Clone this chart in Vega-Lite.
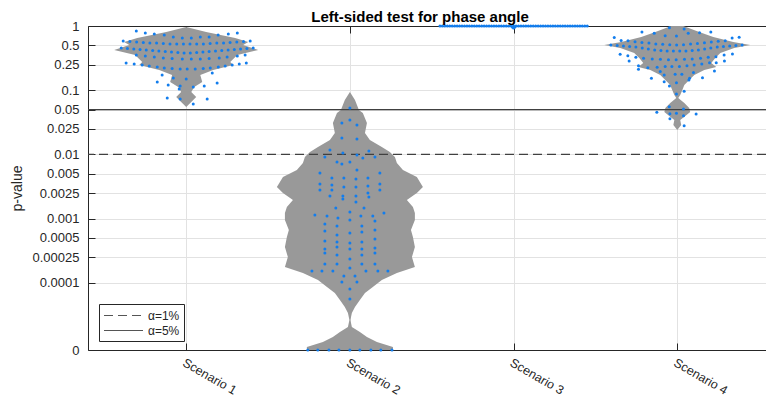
{
  "$schema": "https://vega.github.io/schema/vega-lite/v6.json",
  "width": 678,
  "height": 324,
  "autosize": {"type": "none"},
  "padding": {"left": 88, "top": 26, "right": 0, "bottom": 55},
  "background": "white",
  "title": {"text": "Left-sided test for phase angle", "fontSize": 15, "fontWeight": "bold", "font": "Liberation Sans", "color": "#000000", "anchor": "middle", "dx": -7, "dy": 22, "offset": 5, "baseline": "alphabetic"},
  "config": {"view": {"stroke": null}, "font": "Liberation Sans"},
  "datasets": {
    "violin": [
      {"s":1,"p":0.965,"lo":1,"hi":1},{"s":1,"p":0.806,"lo":0.878,"hi":1.122},{"s":1,"p":0.65,"lo":0.701,"hi":1.299},{"s":1,"p":0.563,"lo":0.621,"hi":1.379},{"s":1,"p":0.506,"lo":0.652,"hi":1.348},{"s":1,"p":0.423,"lo":0.56,"hi":1.44},{"s":1,"p":0.353,"lo":0.688,"hi":1.312},{"s":1,"p":0.275,"lo":0.731,"hi":1.269},{"s":1,"p":0.247,"lo":0.713,"hi":1.287},{"s":1,"p":0.206,"lo":0.835,"hi":1.165},{"s":1,"p":0.1725,"lo":0.914,"hi":1.086},{"s":1,"p":0.134,"lo":0.902,"hi":1.098},{"s":1,"p":0.112,"lo":0.951,"hi":1.049},{"s":1,"p":0.0937,"lo":0.969,"hi":1.031},{"s":1,"p":0.0784,"lo":0.939,"hi":1.061},{"s":1,"p":0.0655,"lo":0.969,"hi":1.031},{"s":1,"p":0.0548,"lo":1,"hi":1},
      {"s":2,"p":0.0937,"lo":2,"hi":2},{"s":2,"p":0.0703,"lo":1.969,"hi":2.031},{"s":2,"p":0.0492,"lo":1.945,"hi":2.055},{"s":2,"p":0.0441,"lo":1.921,"hi":2.079},{"s":2,"p":0.0308,"lo":1.896,"hi":2.104},{"s":2,"p":0.0216,"lo":1.908,"hi":2.092},{"s":2,"p":0.0168,"lo":1.878,"hi":2.122},{"s":2,"p":0.013,"lo":1.805,"hi":2.195},{"s":2,"p":0.0109,"lo":1.756,"hi":2.244},{"s":2,"p":0.0091,"lo":1.725,"hi":2.275},{"s":2,"p":0.00735,"lo":1.713,"hi":2.287},{"s":2,"p":0.00571,"lo":1.676,"hi":2.324},{"s":2,"p":0.00444,"lo":1.591,"hi":2.409},{"s":2,"p":0.00311,"lo":1.554,"hi":2.446},{"s":2,"p":0.0025,"lo":1.591,"hi":2.409},{"s":2,"p":0.00195,"lo":1.652,"hi":2.348},{"s":2,"p":0.00152,"lo":1.615,"hi":2.385},{"s":2,"p":0.00122,"lo":1.603,"hi":2.397},{"s":2,"p":0.000951,"lo":1.603,"hi":2.397},{"s":2,"p":0.000664,"lo":1.627,"hi":2.373},{"s":2,"p":0.000517,"lo":1.615,"hi":2.385},{"s":2,"p":0.000361,"lo":1.603,"hi":2.397},{"s":2,"p":0.000252,"lo":1.621,"hi":2.379},{"s":2,"p":0.000176,"lo":1.603,"hi":2.397},{"s":2,"p":0.000142,"lo":1.713,"hi":2.287},{"s":2,"p":0.000111,"lo":1.805,"hi":2.195},{"s":2,"p":0.0000861,"lo":1.86,"hi":2.14},{"s":2,"p":0.0000693,"lo":1.908,"hi":2.092},{"s":2,"p":0.000054,"lo":1.939,"hi":2.061},{"s":2,"p":0.000042,"lo":1.969,"hi":2.031},{"s":2,"p":0.0000339,"lo":1.988,"hi":2.012},{"s":2,"p":0.0000264,"lo":1.997,"hi":2.003},{"s":2,"p":0.0000205,"lo":1.988,"hi":2.012},{"s":2,"p":0.0000171,"lo":1.939,"hi":2.061},{"s":2,"p":0.0000143,"lo":1.896,"hi":2.104},{"s":2,"p":0.000012,"lo":1.835,"hi":2.165},{"s":2,"p":0.00001,"lo":1.737,"hi":2.263},{"s":2,"p":0.000009,"lo":1.737,"hi":2.263},
      {"s":3,"p":1,"lo":2.985,"hi":3.015},{"s":3,"p":0.97,"lo":2.997,"hi":3.003},{"s":3,"p":0.94,"lo":3,"hi":3},
      {"s":4,"p":1,"lo":3.963,"hi":4.037},{"s":4,"p":0.806,"lo":3.866,"hi":4.134},{"s":4,"p":0.674,"lo":3.78,"hi":4.22},{"s":4,"p":0.563,"lo":3.658,"hi":4.342},{"s":4,"p":0.506,"lo":3.554,"hi":4.446},{"s":4,"p":0.454,"lo":3.652,"hi":4.348},{"s":4,"p":0.38,"lo":3.737,"hi":4.263},{"s":4,"p":0.318,"lo":3.768,"hi":4.232},{"s":4,"p":0.265,"lo":3.792,"hi":4.208},{"s":4,"p":0.23,"lo":3.762,"hi":4.238},{"s":4,"p":0.206,"lo":3.835,"hi":4.165},{"s":4,"p":0.1725,"lo":3.896,"hi":4.104},{"s":4,"p":0.144,"lo":3.927,"hi":4.073},{"s":4,"p":0.1205,"lo":3.957,"hi":4.043},{"s":4,"p":0.1007,"lo":3.969,"hi":4.031},{"s":4,"p":0.0842,"lo":3.982,"hi":4.018},{"s":4,"p":0.0756,"lo":3.994,"hi":4.006},{"s":4,"p":0.0632,"lo":3.957,"hi":4.043},{"s":4,"p":0.0528,"lo":3.927,"hi":4.073},{"s":4,"p":0.0458,"lo":3.921,"hi":4.079},{"s":4,"p":0.0397,"lo":3.951,"hi":4.049},{"s":4,"p":0.0343,"lo":3.982,"hi":4.018},{"s":4,"p":0.0287,"lo":3.976,"hi":4.024},{"s":4,"p":0.024,"lo":4,"hi":4}
    ],
    "alpha": [{"p":0.01,"a":"α=1%"},{"p":0.05,"a":"α=5%"}],
    "dots": [
      {"s":1,"x":0.695,"p":0.836},{"s":1,"x":0.75,"p":0.778},{"s":1,"x":0.805,"p":0.75},{"s":1,"x":0.866,"p":0.724},{"s":1,"x":0.921,"p":0.674},{"s":1,"x":0.976,"p":0.65},{"s":1,"x":1.031,"p":0.65},{"s":1,"x":1.086,"p":0.674},{"s":1,"x":1.14,"p":0.674},{"s":1,"x":1.195,"p":0.724},{"s":1,"x":1.257,"p":0.75},{"s":1,"x":1.312,"p":0.778},
      {"s":1,"x":0.615,"p":0.584},{"s":1,"x":0.656,"p":0.574},{"s":1,"x":0.697,"p":0.563},{"s":1,"x":0.738,"p":0.553},{"s":1,"x":0.778,"p":0.543},{"s":1,"x":0.819,"p":0.543},{"s":1,"x":0.86,"p":0.533},{"s":1,"x":0.901,"p":0.524},{"s":1,"x":0.942,"p":0.524},{"s":1,"x":0.983,"p":0.524},{"s":1,"x":1.023,"p":0.524},{"s":1,"x":1.064,"p":0.524},{"s":1,"x":1.105,"p":0.524},{"s":1,"x":1.146,"p":0.533},{"s":1,"x":1.187,"p":0.543},{"s":1,"x":1.228,"p":0.543},{"s":1,"x":1.268,"p":0.553},{"s":1,"x":1.309,"p":0.563},{"s":1,"x":1.35,"p":0.574},{"s":1,"x":1.391,"p":0.584},
      {"s":1,"x":0.603,"p":0.454},{"s":1,"x":0.641,"p":0.446},{"s":1,"x":0.68,"p":0.438},{"s":1,"x":0.718,"p":0.43},{"s":1,"x":0.756,"p":0.423},{"s":1,"x":0.795,"p":0.415},{"s":1,"x":0.833,"p":0.408},{"s":1,"x":0.872,"p":0.401},{"s":1,"x":0.91,"p":0.394},{"s":1,"x":0.949,"p":0.387},{"s":1,"x":0.987,"p":0.38},{"s":1,"x":1.025,"p":0.38},{"s":1,"x":1.064,"p":0.387},{"s":1,"x":1.102,"p":0.394},{"s":1,"x":1.14,"p":0.401},{"s":1,"x":1.179,"p":0.408},{"s":1,"x":1.217,"p":0.415},{"s":1,"x":1.256,"p":0.423},{"s":1,"x":1.294,"p":0.43},{"s":1,"x":1.332,"p":0.438},{"s":1,"x":1.371,"p":0.446},{"s":1,"x":1.409,"p":0.454},
      {"s":1,"x":0.695,"p":0.353},{"s":1,"x":0.75,"p":0.341},{"s":1,"x":0.805,"p":0.329},{"s":1,"x":0.86,"p":0.318},{"s":1,"x":0.914,"p":0.312},{"s":1,"x":0.976,"p":0.306},{"s":1,"x":1.031,"p":0.306},{"s":1,"x":1.086,"p":0.306},{"s":1,"x":1.14,"p":0.312},{"s":1,"x":1.202,"p":0.318},{"s":1,"x":1.25,"p":0.329},{"s":1,"x":1.312,"p":0.341},{"s":1,"x":1.36,"p":0.353},
      {"s":1,"x":0.633,"p":0.265},{"s":1,"x":0.682,"p":0.256},{"s":1,"x":0.731,"p":0.247},{"s":1,"x":0.774,"p":0.238},{"s":1,"x":0.823,"p":0.23},{"s":1,"x":0.866,"p":0.222},{"s":1,"x":0.914,"p":0.218},{"s":1,"x":0.963,"p":0.214},{"s":1,"x":1.006,"p":0.214},{"s":1,"x":1.055,"p":0.214},{"s":1,"x":1.104,"p":0.218},{"s":1,"x":1.147,"p":0.222},{"s":1,"x":1.196,"p":0.23},{"s":1,"x":1.238,"p":0.238},{"s":1,"x":1.281,"p":0.247},{"s":1,"x":1.324,"p":0.256},{"s":1,"x":1.367,"p":0.265},
      {"s":1,"x":0.853,"p":0.1725},{"s":1,"x":1.159,"p":0.185},{"s":1,"x":0.823,"p":0.134},{"s":1,"x":0.921,"p":0.155},{"s":1,"x":1.0,"p":0.149},{"s":1,"x":1.189,"p":0.1295},{"s":1,"x":0.89,"p":0.1205},{"s":1,"x":0.963,"p":0.116},{"s":1,"x":1.043,"p":0.112},{"s":1,"x":1.11,"p":0.116},{"s":1,"x":0.957,"p":0.104},{"s":1,"x":0.884,"p":0.0756},{"s":1,"x":0.963,"p":0.0729},{"s":1,"x":1.128,"p":0.0729},{"s":1,"x":1.043,"p":0.061},
      {"s":2,"x":2.0,"p":0.0528},{"s":2,"x":1.951,"p":0.0308},{"s":2,"x":2.0,"p":0.0343},{"s":2,"x":2.043,"p":0.0287},{"s":2,"x":1.951,"p":0.018},{"s":2,"x":2.043,"p":0.0174},{"s":2,"x":1.878,"p":0.0117},{"s":2,"x":1.957,"p":0.0105},{"s":2,"x":2.043,"p":0.0098},{"s":2,"x":2.116,"p":0.0113},{"s":2,"x":1.847,"p":0.0091},{"s":2,"x":2.079,"p":0.0088},{"s":2,"x":2.153,"p":0.0091},{"s":2,"x":1.921,"p":0.00762},{"s":2,"x":1.951,"p":0.00709},{"s":2,"x":2.0,"p":0.00762},{"s":2,"x":2.043,"p":0.00571},{"s":2,"x":1.817,"p":0.00513},{"s":2,"x":2.183,"p":0.00513},{"s":2,"x":1.89,"p":0.00429},{"s":2,"x":1.963,"p":0.00429},{"s":2,"x":2.037,"p":0.00414},{"s":2,"x":2.11,"p":0.00429},{"s":2,"x":1.817,"p":0.00346},{"s":2,"x":1.89,"p":0.00334},{"s":2,"x":1.963,"p":0.00311},{"s":2,"x":2.037,"p":0.00311},{"s":2,"x":2.11,"p":0.00322},{"s":2,"x":2.183,"p":0.00346},{"s":2,"x":1.817,"p":0.00279},{"s":2,"x":1.89,"p":0.00279},{"s":2,"x":2.183,"p":0.00279},{"s":2,"x":1.878,"p":0.00225},{"s":2,"x":1.957,"p":0.00225},{"s":2,"x":1.957,"p":0.00202},{"s":2,"x":2.037,"p":0.00225},{"s":2,"x":2.11,"p":0.0025},{"s":2,"x":2.116,"p":0.00217},{"s":2,"x":2.037,"p":0.00181},{"s":2,"x":1.914,"p":0.00146},{"s":2,"x":2.086,"p":0.00146},{"s":2,"x":1.786,"p":0.00114},{"s":2,"x":1.86,"p":0.0011},{"s":2,"x":1.927,"p":0.00102},{"s":2,"x":2.0,"p":0.00127},{"s":2,"x":2.067,"p":0.0011},{"s":2,"x":2.14,"p":0.0011},{"s":2,"x":2.208,"p":0.00122},{"s":2,"x":1.847,"p":0.000824},{"s":2,"x":1.921,"p":0.000767},{"s":2,"x":2.0,"p":0.000951},{"s":2,"x":2.073,"p":0.000767},{"s":2,"x":2.153,"p":0.000918},{"s":2,"x":1.847,"p":0.000641},{"s":2,"x":1.921,"p":0.000556},{"s":2,"x":2.0,"p":0.000597},{"s":2,"x":2.073,"p":0.000618},{"s":2,"x":2.153,"p":0.000664},{"s":2,"x":1.847,"p":0.000448},{"s":2,"x":1.921,"p":0.000432},{"s":2,"x":2.0,"p":0.000417},{"s":2,"x":2.073,"p":0.000432},{"s":2,"x":2.153,"p":0.000481},{"s":2,"x":1.847,"p":0.000336},{"s":2,"x":1.847,"p":0.000291},{"s":2,"x":1.921,"p":0.000361},{"s":2,"x":1.921,"p":0.000271},{"s":2,"x":2.0,"p":0.000336},{"s":2,"x":2.0,"p":0.000235},{"s":2,"x":2.073,"p":0.000336},{"s":2,"x":2.073,"p":0.000271},{"s":2,"x":2.153,"p":0.000348},{"s":2,"x":2.153,"p":0.000291},{"s":2,"x":1.847,"p":0.000196},{"s":2,"x":1.921,"p":0.000196},{"s":2,"x":2.0,"p":0.00017},{"s":2,"x":2.073,"p":0.000196},{"s":2,"x":2.153,"p":0.000196},{"s":2,"x":1.768,"p":0.000153},{"s":2,"x":1.829,"p":0.000153},{"s":2,"x":1.896,"p":0.000153},{"s":2,"x":2.098,"p":0.000153},{"s":2,"x":2.171,"p":0.000153},{"s":2,"x":2.232,"p":0.000153},{"s":2,"x":1.963,"p":0.000128},{"s":2,"x":2.031,"p":0.000128},{"s":2,"x":1.951,"p":0.000103},{"s":2,"x":2.043,"p":0.000103},{"s":2,"x":2.0,"p":0.00008},{"s":2,"x":2.0,"p":0.000056},
      {"s":2,"x":1.743,"p":0.000009},{"s":2,"x":1.804,"p":0.000009},{"s":2,"x":1.872,"p":0.000009},{"s":2,"x":1.933,"p":0.000009},{"s":2,"x":2.0,"p":0.000009},{"s":2,"x":2.061,"p":0.000009},{"s":2,"x":2.128,"p":0.000009},{"s":2,"x":2.189,"p":0.000009},{"s":2,"x":2.257,"p":0.000009},
      {"s":3,"x":2.55,"p":1},{"s":3,"x":2.565,"p":1},{"s":3,"x":2.58,"p":1},{"s":3,"x":2.595,"p":1},{"s":3,"x":2.61,"p":1},{"s":3,"x":2.625,"p":1},{"s":3,"x":2.64,"p":1},{"s":3,"x":2.655,"p":1},{"s":3,"x":2.67,"p":1},{"s":3,"x":2.685,"p":1},{"s":3,"x":2.7,"p":1},{"s":3,"x":2.715,"p":1},{"s":3,"x":2.73,"p":1},{"s":3,"x":2.745,"p":1},{"s":3,"x":2.76,"p":1},{"s":3,"x":2.775,"p":1},{"s":3,"x":2.79,"p":1},{"s":3,"x":2.805,"p":1},{"s":3,"x":2.82,"p":1},{"s":3,"x":2.835,"p":1},{"s":3,"x":2.85,"p":1},{"s":3,"x":2.865,"p":1},{"s":3,"x":2.88,"p":1},{"s":3,"x":2.895,"p":1},{"s":3,"x":2.91,"p":1},{"s":3,"x":2.925,"p":1},{"s":3,"x":2.94,"p":1},{"s":3,"x":2.955,"p":1},{"s":3,"x":2.97,"p":1},{"s":3,"x":2.985,"p":1},{"s":3,"x":3.0,"p":1},{"s":3,"x":3.015,"p":1},{"s":3,"x":3.03,"p":1},{"s":3,"x":3.045,"p":1},{"s":3,"x":3.06,"p":1},{"s":3,"x":3.075,"p":1},{"s":3,"x":3.09,"p":1},{"s":3,"x":3.105,"p":1},{"s":3,"x":3.12,"p":1},{"s":3,"x":3.135,"p":1},{"s":3,"x":3.15,"p":1},{"s":3,"x":3.165,"p":1},{"s":3,"x":3.18,"p":1},{"s":3,"x":3.195,"p":1},{"s":3,"x":3.21,"p":1},{"s":3,"x":3.225,"p":1},{"s":3,"x":3.24,"p":1},{"s":3,"x":3.255,"p":1},{"s":3,"x":3.27,"p":1},{"s":3,"x":3.285,"p":1},{"s":3,"x":3.3,"p":1},{"s":3,"x":3.315,"p":1},{"s":3,"x":3.33,"p":1},{"s":3,"x":3.345,"p":1},{"s":3,"x":3.36,"p":1},{"s":3,"x":3.375,"p":1},{"s":3,"x":3.39,"p":1},{"s":3,"x":3.405,"p":1},{"s":3,"x":3.42,"p":1},{"s":3,"x":3.435,"p":1},{"s":3,"x":3.45,"p":1},{"s":3,"x":2.994,"p":0.96},{"s":3,"x":3.0,"p":0.93},{"s":3,"x":3.006,"p":0.96},
      {"s":4,"x":3.784,"p":0.806},{"s":4,"x":3.859,"p":0.77},{"s":4,"x":3.926,"p":0.706},{"s":4,"x":3.952,"p":0.941},{"s":4,"x":3.995,"p":0.698},{"s":4,"x":4.042,"p":0.898},{"s":4,"x":4.067,"p":0.77},{"s":4,"x":4.136,"p":0.786},{"s":4,"x":4.205,"p":0.806},
      {"s":4,"x":3.615,"p":0.662},{"s":4,"x":3.657,"p":0.594},{"s":4,"x":3.699,"p":0.59},{"s":4,"x":3.742,"p":0.57},{"s":4,"x":3.784,"p":0.553},{"s":4,"x":3.827,"p":0.543},{"s":4,"x":3.869,"p":0.524},{"s":4,"x":3.911,"p":0.519},{"s":4,"x":3.954,"p":0.512},{"s":4,"x":3.996,"p":0.506},{"s":4,"x":4.038,"p":0.512},{"s":4,"x":4.081,"p":0.524},{"s":4,"x":4.123,"p":0.533},{"s":4,"x":4.166,"p":0.549},{"s":4,"x":4.208,"p":0.563},{"s":4,"x":4.25,"p":0.578},{"s":4,"x":4.293,"p":0.59},{"s":4,"x":4.335,"p":0.65},{"s":4,"x":4.378,"p":0.666},
      {"s":4,"x":3.594,"p":0.506},{"s":4,"x":3.633,"p":0.497},{"s":4,"x":3.671,"p":0.488},{"s":4,"x":3.709,"p":0.479},{"s":4,"x":3.747,"p":0.471},{"s":4,"x":3.786,"p":0.454},{"s":4,"x":3.823,"p":0.438},{"s":4,"x":3.862,"p":0.423},{"s":4,"x":3.9,"p":0.415},{"s":4,"x":3.938,"p":0.408},{"s":4,"x":3.976,"p":0.408},{"s":4,"x":4.015,"p":0.408},{"s":4,"x":4.053,"p":0.408},{"s":4,"x":4.091,"p":0.415},{"s":4,"x":4.129,"p":0.423},{"s":4,"x":4.167,"p":0.438},{"s":4,"x":4.205,"p":0.454},{"s":4,"x":4.244,"p":0.471},{"s":4,"x":4.282,"p":0.479},{"s":4,"x":4.32,"p":0.488},{"s":4,"x":4.358,"p":0.497},{"s":4,"x":4.396,"p":0.506},
      {"s":4,"x":3.651,"p":0.362},{"s":4,"x":3.698,"p":0.345},{"s":4,"x":3.747,"p":0.326},{"s":4,"x":3.794,"p":0.314},{"s":4,"x":3.847,"p":0.306},{"s":4,"x":3.897,"p":0.303},{"s":4,"x":3.946,"p":0.299},{"s":4,"x":3.993,"p":0.299},{"s":4,"x":4.044,"p":0.303},{"s":4,"x":4.091,"p":0.306},{"s":4,"x":4.142,"p":0.314},{"s":4,"x":4.189,"p":0.326},{"s":4,"x":4.236,"p":0.333},{"s":4,"x":4.286,"p":0.353},{"s":4,"x":4.337,"p":0.366},
      {"s":4,"x":3.706,"p":0.285},{"s":4,"x":3.763,"p":0.241},{"s":4,"x":3.763,"p":0.212},{"s":4,"x":3.82,"p":0.224},{"s":4,"x":3.877,"p":0.228},{"s":4,"x":3.926,"p":0.233},{"s":4,"x":3.967,"p":0.233},{"s":4,"x":4.013,"p":0.233},{"s":4,"x":4.059,"p":0.241},{"s":4,"x":4.103,"p":0.247},{"s":4,"x":4.15,"p":0.256},{"s":4,"x":4.197,"p":0.268},{"s":4,"x":4.238,"p":0.268},{"s":4,"x":4.288,"p":0.285},
      {"s":4,"x":4.227,"p":0.199},{"s":4,"x":3.842,"p":0.153},{"s":4,"x":3.92,"p":0.1725},{"s":4,"x":3.987,"p":0.177},{"s":4,"x":4.028,"p":0.177},{"s":4,"x":4.075,"p":0.153},{"s":4,"x":4.154,"p":0.157},{"s":4,"x":3.896,"p":0.195},{"s":4,"x":4.099,"p":0.188},{"s":4,"x":3.92,"p":0.1357},{"s":4,"x":3.952,"p":0.1163},{"s":4,"x":3.995,"p":0.131},{"s":4,"x":4.071,"p":0.144},{"s":4,"x":3.995,"p":0.0872},{"s":4,"x":4.042,"p":0.0961},{"s":4,"x":3.951,"p":0.0553},{"s":4,"x":4.038,"p":0.051},{"s":4,"x":3.875,"p":0.0453},{"s":4,"x":3.955,"p":0.0429},{"s":4,"x":3.995,"p":0.0436},{"s":4,"x":4.038,"p":0.0401},{"s":4,"x":4.115,"p":0.0425},{"s":4,"x":3.955,"p":0.036},{"s":4,"x":4.042,"p":0.028}
    ]
  },
  "resolve": {"scale": {"x": "shared", "y": "shared"}, "axis": {"x": "independent"}},
  "layer": [
    {
      "data": {"name": "violin"},
      "mark": {"type": "area", "orient": "horizontal", "color": "#999999", "opacity": 1},
      "encoding": {
        "y": {"field": "p", "type": "quantitative", "scale": {"type": "log", "domain": [0.000009, 1], "nice": false},
          "axis": {"title": "p-value", "titleFontSize": 14, "titleFontWeight": "normal", "titleColor": "#262626", "titleFont": "Liberation Sans", "titlePadding": 8,
            "values": [0.000009, 0.0001, 0.00025, 0.0005, 0.001, 0.0025, 0.005, 0.01, 0.025, 0.05, 0.1, 0.25, 0.5, 1],
            "labelExpr": "datum.value < 0.00002 ? '0' : format(datum.value, '~g')",
            "labelFontSize": 13, "labelColor": "#262626", "labelFont": "Liberation Sans", "labelPadding": 16, "labelOverlap": false, "labelBound": false, "labelFlush": false,
            "tickSize": -7, "tickColor": "#262626", "domainColor": "#262626", "grid": true, "gridColor": "#e2e2e2"}},
        "x": {"field": "lo", "type": "quantitative", "scale": {"domain": [0.4, 4.542], "nice": false, "zero": false},
          "axis": {"orient": "bottom", "title": null, "values": [1, 2, 3, 4], "labelExpr": "'Scenario ' + datum.value", "labelAngle": 30, "labelAlign": "left", "labelBaseline": "top",
            "labelFontSize": 12.5, "labelColor": "#262626", "labelFont": "Liberation Sans", "labelPadding": 13, "labelFlush": false, "labelOverlap": false,
            "tickSize": -7, "tickColor": "#262626", "domainColor": "#262626", "grid": true, "gridColor": "#e2e2e2"}},
        "x2": {"field": "hi"},
        "detail": {"field": "s", "type": "nominal"}
      }
    },
    {
      "data": {"name": "alpha"},
      "mark": {"type": "rule", "color": "#404040", "strokeWidth": 1.2},
      "encoding": {
        "y": {"field": "p", "type": "quantitative", "scale": {"type": "log", "domain": [0.000009, 1], "nice": false}},
        "strokeDash": {"field": "a", "type": "nominal", "scale": {"domain": ["α=1%", "α=5%"], "range": [[9, 5], [1, 0]]},
          "legend": {"orient": "none", "legendX": 11, "legendY": 278, "title": null, "symbolType": "M-1,0L5,0", "symbolSize": 169, "symbolStrokeWidth": 1.2, "symbolStrokeColor": "#555555",
            "labelFontSize": 12, "labelFont": "Liberation Sans", "labelColor": "#262626", "strokeColor": "#262626", "fillColor": "white", "padding": 4, "rowPadding": 1, "labelOffset": 30}}
      }
    },
    {
      "data": {"name": "dots"},
      "mark": {"type": "point", "filled": true, "size": 9, "color": "#127ded", "opacity": 1},
      "encoding": {
        "x": {"field": "x", "type": "quantitative", "scale": {"domain": [0.4, 4.542], "nice": false, "zero": false},
          "axis": {"orient": "top", "title": null, "values": [1, 2, 3, 4], "labels": false, "grid": false, "domain": true, "domainColor": "#262626", "tickSize": -7, "tickColor": "#262626"}},
        "y": {"field": "p", "type": "quantitative", "scale": {"type": "log", "domain": [0.000009, 1], "nice": false}}
      }
    }
  ]
}
